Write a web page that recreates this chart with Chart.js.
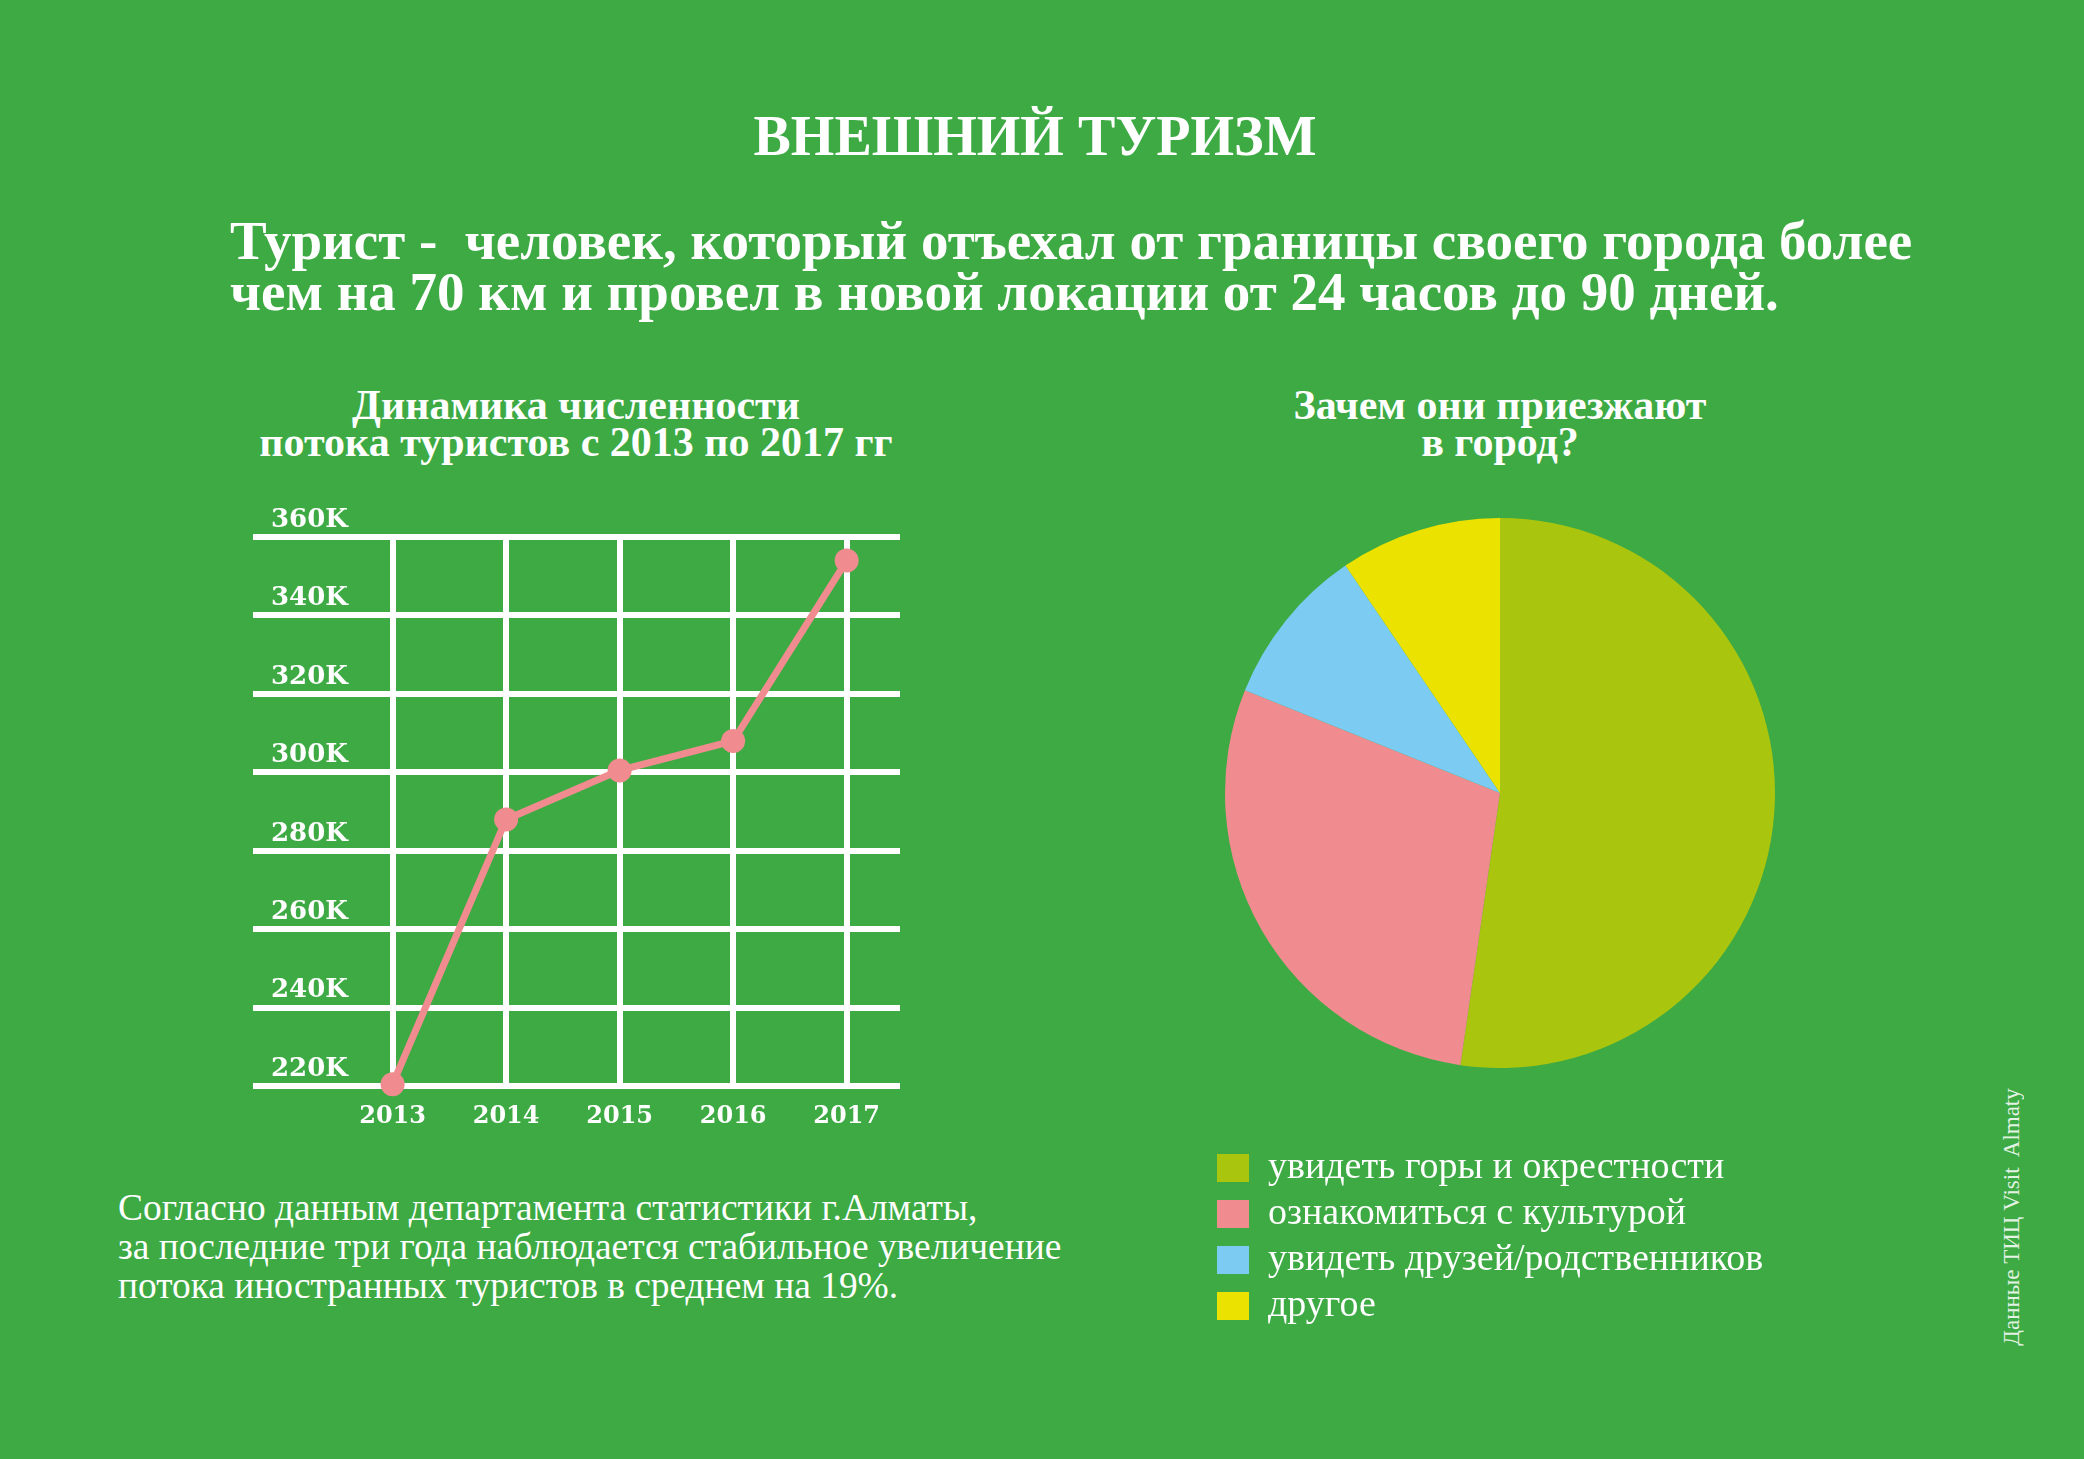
<!DOCTYPE html>
<html lang="ru">
<head>
    <meta charset="UTF-8">
    <title>Внешний туризм</title>
    <style>
        html, body { margin: 0; padding: 0; }
        body {
            width: 2084px; height: 1459px; position: relative; overflow: hidden;
            background: #3DAA43; color: #fff;
            font-family: "Liberation Serif", "DejaVu Serif", serif;
        }
        .txt { position: absolute; white-space: nowrap; }
        #title { left: 0; width: 2070px; top: 108px; text-align: center; font-size: 56px; line-height: 56px; font-weight: bold; }
        #lead { left: 230px; top: 215px; font-size: 55px; line-height: 51px; font-weight: bold; }
        .ctitle { font-size: 42px; line-height: 37px; font-weight: bold; text-align: center; width: 700px; top: 387px; }
        #para { left: 118px; top: 1188px; font-size: 37.4px; line-height: 39px; }
        #note { left: 2012px; top: 1217px; font-size: 23px; transform: translate(-50%, -50%) rotate(-90deg); opacity: 0.85; }
        #line-box { position: absolute; left: 217px; top: 490px; width: 700px; height: 657px; }
        #pie-box { position: absolute; left: 1209px; top: 445px; width: 582px; height: 890px; }
    </style>
</head>
<body>

<div id="title" class="txt">ВНЕШНИЙ ТУРИЗМ</div>
<div id="lead" class="txt">Турист -&nbsp; человек, который отъехал от границы своего города более<br>чем на 70 км и провел в новой локации от 24 часов до 90 дней.</div>

<div class="txt ctitle" style="left: 226px;">Динамика численности<br>потока туристов с 2013 по 2017 гг</div>
<div class="txt ctitle" style="left: 1150px;">Зачем они приезжают<br>в город?</div>

<div id="line-box"><canvas id="line-chart"></canvas></div>
<div id="pie-box"><canvas id="pie-chart"></canvas></div>

<div id="para" class="txt">Согласно данным департамента статистики г.Алматы,<br>за последние три года наблюдается стабильное увеличение<br>потока иностранных туристов в среднем на 19%.</div>
<div id="note" class="txt">Данные ТИЦ Visit&nbsp; Almaty</div>

<script src="https://cdn.jsdelivr.net/npm/chart.js@4.4.1/dist/chart.umd.min.js"></script>
<script>
    // line chart data
    const years = [2013, 2014, 2015, 2016, 2017];
    const tourists = [220500, 288000, 300500, 308000, 354000];
    const yMin = 220000;
    const yMax = 360000;
    const yStep = 20000;

    // pie chart data
    const reasons = ['увидеть горы и окрестности', 'ознакомиться с культурой', 'увидеть друзей/родственников', 'другое'];
    const shares = [52.3, 28.8, 9.4, 9.5];
    const reasonColors = ['#AAC50E', '#F08C8F', '#7BCBF2', '#EBE200'];

    const pink = '#F08C8F';

    Chart.defaults.font.family = '"DejaVu Serif", "Liberation Serif", serif';
    Chart.defaults.color = '#fff';
    Chart.defaults.animation = false;

    const lineChart = new Chart(document.getElementById('line-chart'), {
        type: 'line',
        data: {
            datasets: [{
                data: years.map((y, i) => ({x: y, y: tourists[i]})),
                borderColor: pink,
                backgroundColor: pink,
                borderWidth: 7,
                pointRadius: 12,
                pointBorderWidth: 0,
                pointBackgroundColor: pink,
                clip: false
            }]
        },
        options: {
            responsive: true,
            maintainAspectRatio: false,
            layout: { padding: { left: 0, right: 17, top: 47, bottom: 0 } },
            plugins: { legend: { display: false }, tooltip: { enabled: false } },
            scales: {
                x: {
                    type: 'linear',
                    min: 2011.77,
                    max: 2017.47,
                    afterBuildTicks: axis => { axis.ticks = years.map(v => ({value: v})); },
                    grid: { color: '#fff', lineWidth: 6, drawTicks: false },
                    border: { display: false },
                    ticks: {
                        padding: 16,
                        font: { size: 24, weight: 'bold' },
                        callback: v => String(v)
                    }
                },
                y: {
                    min: yMin,
                    max: yMax,
                    grid: { color: '#fff', lineWidth: 6, drawTicks: false },
                    border: { display: false },
                    ticks: {
                        stepSize: yStep,
                        mirror: true,
                        padding: 18,
                        labelOffset: -17,
                        font: { size: 26, weight: 'bold' },
                        callback: v => (v / 1000) + 'K'
                    }
                }
            }
        }
    });

    const pieChart = new Chart(document.getElementById('pie-chart'), {
        type: 'pie',
        data: {
            labels: reasons,
            datasets: [{
                data: shares,
                backgroundColor: reasonColors,
                borderWidth: 0,
                radius: 275
            }]
        },
        options: {
            responsive: true,
            maintainAspectRatio: false,
            layout: { padding: 0 },
            plugins: {
                tooltip: { enabled: false },
                legend: {
                    position: 'bottom',
                    align: 'start',
                    labels: {
                        boxWidth: 32,
                        boxHeight: 28,
                        padding: 8,
                        color: '#fff',
                        font: { family: '"Liberation Serif", serif', size: 38 }
                    }
                }
            }
        }
    });
</script>
</body>
</html>
